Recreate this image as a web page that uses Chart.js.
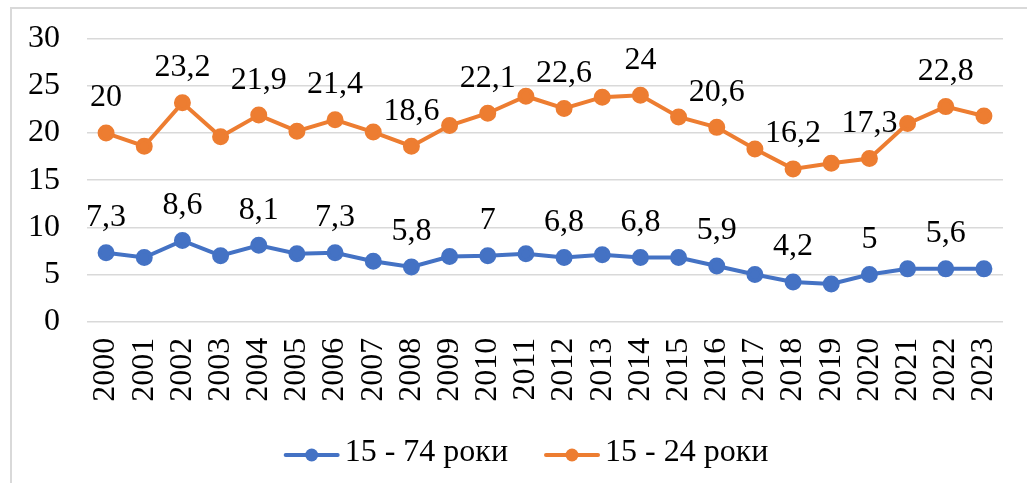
<!DOCTYPE html>
<html>
<head>
<meta charset="utf-8">
<script src="https://cdn.jsdelivr.net/npm/chart.js@4/dist/chart.umd.min.js"></script>
<style>
  html, body { margin: 0; padding: 0; background: #fff; overflow: hidden; }
  #wrap { position: relative; width: 1027px; height: 483px; }
  #frame { position: absolute; left: 10px; top: 7px; width: 1100px; height: 600px; border: 2px solid #d9d9d9; box-sizing: border-box; }
  #chart { position: absolute; left: 0; top: 0; }
</style>
</head>
<body>
<div id="wrap">
  <div id="frame"></div>
  <canvas id="chart" width="1027" height="483"></canvas>
</div>
<script>
// --- data ---
const years = ['2000', '2001', '2002', '2003', '2004', '2005', '2006', '2007', '2008', '2009', '2010', '2011',
  '2012', '2013', '2014', '2015', '2016', '2017', '2018', '2019', '2020', '2021', '2022', '2023'];
const seriesNames = ['15 - 74 роки', '15 - 24 роки'];
const rateAll = [7.3, 6.8, 8.6, 7.0, 8.1, 7.2, 7.3, 6.4, 5.8, 6.9, 7, 7.2, 6.8, 7.1, 6.8, 6.8, 5.9, 5.0, 4.2, 4.0, 5, 5.6, 5.6, 5.6];
const rateYouth = [20, 18.6, 23.2, 19.6, 21.9, 20.2, 21.4, 20.1, 18.6, 20.8, 22.1, 23.9, 22.6, 23.8, 24, 21.7, 20.6, 18.3, 16.2, 16.8, 17.3, 21.0, 22.8, 21.8];
const yMin = 0, yMax = 30, yStep = 5;

const colors = ['#4472C4', '#ED7D31'];
const FONT = '"Liberation Serif", "Times New Roman", serif';
const FSIZE = 32;

// value labels above every second point (as in the source chart)
const valueLabels = {
  id: 'valueLabels',
  afterDatasetsDraw(chart) {
    const ctx = chart.ctx;
    ctx.save();
    ctx.font = FSIZE + 'px ' + FONT;
    ctx.fillStyle = '#000';
    ctx.textAlign = 'center';
    ctx.textBaseline = 'middle';
    chart.data.datasets.forEach((ds, i) => {
      const meta = chart.getDatasetMeta(i);
      meta.data.forEach((pt, j) => {
        if (j % 2 !== 0) return;
        const txt = String(ds.data[j]).replace('.', ',');
        ctx.fillText(txt, pt.x, pt.y - 35);
      });
    });
    ctx.restore();
  }
};

// legend: line with a dot, then the series name
const lineLegend = {
  id: 'lineLegend',
  afterDraw(chart) {
    const ctx = chart.ctx;
    ctx.save();
    ctx.font = FSIZE + 'px ' + FONT;
    const markW = 56, gap = 5, itemGap = 36;
    const widths = chart.data.datasets.map(ds => ctx.measureText(ds.label).width);
    let total = 0;
    widths.forEach((w, i) => { total += markW + gap + w + (i ? itemGap : 0); });
    let x = 526 - total / 2;
    const yMark = 455, yText = 461;
    chart.data.datasets.forEach((ds, i) => {
      ctx.strokeStyle = ds.borderColor;
      ctx.lineWidth = 4;
      ctx.lineCap = 'round';
      ctx.beginPath();
      ctx.moveTo(x + 2, yMark);
      ctx.lineTo(x + markW - 2, yMark);
      ctx.stroke();
      ctx.fillStyle = ds.borderColor;
      ctx.beginPath();
      ctx.arc(x + markW / 2, yMark, 6.5, 0, Math.PI * 2);
      ctx.fill();
      ctx.fillStyle = '#000';
      ctx.textAlign = 'left';
      ctx.textBaseline = 'alphabetic';
      ctx.fillText(ds.label, x + markW + gap, yText);
      x += markW + gap + widths[i] + itemGap;
    });
    ctx.restore();
  }
};

const mkDataset = (label, data, color) => ({
  label,
  data,
  borderColor: color,
  backgroundColor: color,
  pointBackgroundColor: color,
  pointBorderColor: color,
  borderWidth: 4,
  pointRadius: 6.5,
  pointHoverRadius: 6.5,
  tension: 0,
});

const noPad = (s) => { s.paddingLeft = 0; s.paddingRight = 0; s.paddingTop = 0; s.paddingBottom = 0; };

new Chart(document.getElementById('chart'), {
  type: 'line',
  data: {
    labels: years,
    datasets: [
      mkDataset(seriesNames[0], rateAll, colors[0]),
      mkDataset(seriesNames[1], rateYouth, colors[1]),
    ],
  },
  options: {
    responsive: false,
    animation: false,
    devicePixelRatio: 1,
    layout: { padding: { left: 0, right: 24, top: 38.7, bottom: 0 } },
    plugins: {
      legend: { display: false },
      tooltip: { enabled: false },
    },
    scales: {
      x: {
        offset: true,
        grid: { display: false, drawTicks: false },
        border: { display: false },
        ticks: {
          autoSkip: false,
          minRotation: 90,
          maxRotation: 90,
          padding: 16,
          color: '#000',
          font: { family: FONT, size: FSIZE },
        },
        afterFit: (s) => { s.height = 161.3; noPad(s); },
      },
      y: {
        min: yMin,
        max: yMax,
        grid: { color: '#d9d9d9', lineWidth: 1.5, drawTicks: false },
        border: { display: false },
        ticks: {
          stepSize: yStep,
          padding: 27,
          color: '#000',
          font: { family: FONT, size: FSIZE },
        },
        afterFit: (s) => { s.width = 87; noPad(s); },
      },
    },
  },
  plugins: [valueLabels, lineLegend],
});
</script>
</body>
</html>
